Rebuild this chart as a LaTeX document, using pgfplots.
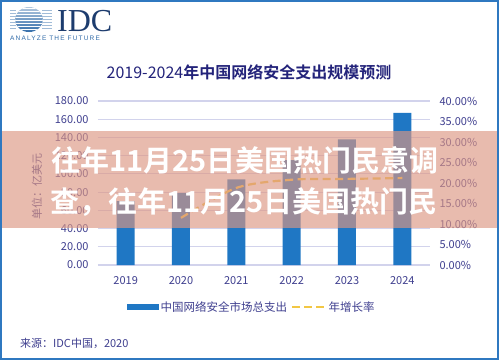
\documentclass[border=0pt]{standalone}
\usepackage{pgfplots}
\pgfplotsset{compat=1.18}
\usepackage{fontspec}
\setmainfont{Noto Sans CJK SC}[BoldFont={Noto Sans CJK SC Bold}]
\newfontfamily\idcserif{Liberation Serif}
\newfontfamily\idcsans{Liberation Sans}[LetterSpace=18]
\definecolor{barblue}{HTML}{1F77C4}
\definecolor{lineyel}{HTML}{F2C744}
\definecolor{lab}{HTML}{3F3F8F}
\definecolor{gridc}{HTML}{D2D3EC}
\definecolor{titlec}{HTML}{23237A}
\definecolor{framec}{HTML}{2F78C0}
\definecolor{band}{RGB}{221,151,131}
\definecolor{idcnavy}{HTML}{1D3C6E}
\definecolor{idcblue}{HTML}{2F6AA8}
\begin{document}
\begin{tikzpicture}[x=1pt,y=1pt]
\fill[white] (0,0) rectangle (499,360);
% logo
\begin{scope}
\clip (29,340.5) ellipse [x radius=14, y radius=12.5];
\shade[top color=idcblue!35, bottom color=idcblue] (14,327) rectangle (44,354);
\foreach \yy in {330.5,333.5,...,351.5} \draw[white, line width=0.9pt] (14,\yy) -- (44,\yy);
\end{scope}
\foreach \yy in {332,335,...,350} {\draw[idcblue!45, line width=0.6pt] (10,\yy) -- (16,\yy); \draw[idcblue!45, line width=0.6pt] (42,\yy) -- (52,\yy);}
\node[anchor=base west, font=\idcserif\fontsize{32}{32}\selectfont, text=idcnavy, inner sep=0] at (57,329) {IDC};
\node[anchor=base west, font=\idcsans\fontsize{6.5}{7}\selectfont, text=idcblue, inner sep=0] at (10,320) {ANALYZE THE FUTURE};
% title
\node[font=\fontsize{16}{16}\selectfont, text=titlec, inner sep=0] at (249,288) {2019-2024\textbf{年中国网络安全支出规模预测}};

\begin{axis}[at={(98pt,95pt)}, anchor=south west, scale only axis, width=332pt, height=164pt,
  xmin=-0.5, xmax=5.5, ymin=0, ymax=180,
  xtick={0,...,5}, xticklabels={2019,2020,2021,2022,2023,2024},
  ytick={0,20,...,180},
  axis line style={draw=none}, major tick length=0pt,
  ymajorgrids, grid style={gridc, line width=1.2pt},
  tick label style={font=\fontsize{11}{12}\selectfont, text=lab},
  yticklabel style={xshift=-6pt, /pgf/number format/.cd, fixed, fixed zerofill, precision=2, 1000 sep={}, assume math mode=true},
  xticklabel style={yshift=-8pt},
  ylabel={单位：亿美元}, ylabel style={at={(rel axis cs:-0.184,0.476)}, anchor=center, rotate=0, font=\fontsize{11}{12}\selectfont, text=lab},
]
\addplot[ybar, bar width=18pt, fill=barblue, draw=none] coordinates {(0,70) (1,79) (2,94) (3,115) (4,138) (5,167)};
\end{axis}

\begin{axis}[at={(98pt,95pt)}, anchor=south west, scale only axis, width=332pt, height=164pt,
  xmin=-0.5, xmax=5.5, ymin=0, ymax=40, ytick={0,5,...,40},
  axis x line=none, axis y line*=right, axis line style={draw=none}, major tick length=0pt,
  tick label style={font=\fontsize{11}{12}\selectfont, text=lab},
  yticklabel={\pgfmathprintnumber[fixed, fixed zerofill, precision=2, assume math mode=true]{\tick}\%},
  yticklabel style={xshift=6pt},
  legend style={at={(0.464,-0.256)}, anchor=center, draw=none, fill=none, font=\fontsize{11.5}{12}\selectfont, text=lab,
    /tikz/every even column/.append style={column sep=2pt}},
  legend columns=2, legend cell align=left,
]
\addlegendimage{legend image code/.code={\fill[barblue] (0pt,-2.5pt) rectangle (31pt,2.5pt);}}
\addlegendentry{中国网络安全市场总支出}
\addplot[lineyel, line width=2.2pt, dash pattern=on 8pt off 4.5pt, smooth, tension=0.5,
  legend image code/.code={\draw[lineyel, line width=2.5pt, dash pattern=on 8pt off 4pt] (0pt,0pt) -- (33pt,0pt);}]
  coordinates {(1,11.5) (2,18.8) (3,20.8) (4,21.0) (5,21.2)};
\addlegendentry{年增长率}
\end{axis}

% overlay band
\fill[band, fill opacity=0.65] (0,132) rectangle (499,229);
\node[anchor=base west, text=white, font=\bfseries\fontsize{29}{29}\selectfont, inner sep=0] at (51,188.5) {往年11月25日美国热门民意调};
\node[anchor=base west, text=white, font=\bfseries\fontsize{29}{29}\selectfont, inner sep=0] at (50,147.5) {查，往年11月25日美国热门民};

\node[anchor=base west, font=\fontsize{11}{12}\selectfont, text=lab, inner sep=0] at (20,13) {来源：IDC中国，2020};
\draw[framec, line width=2pt] (1,1) rectangle (498,359);
\end{tikzpicture}
\end{document}
